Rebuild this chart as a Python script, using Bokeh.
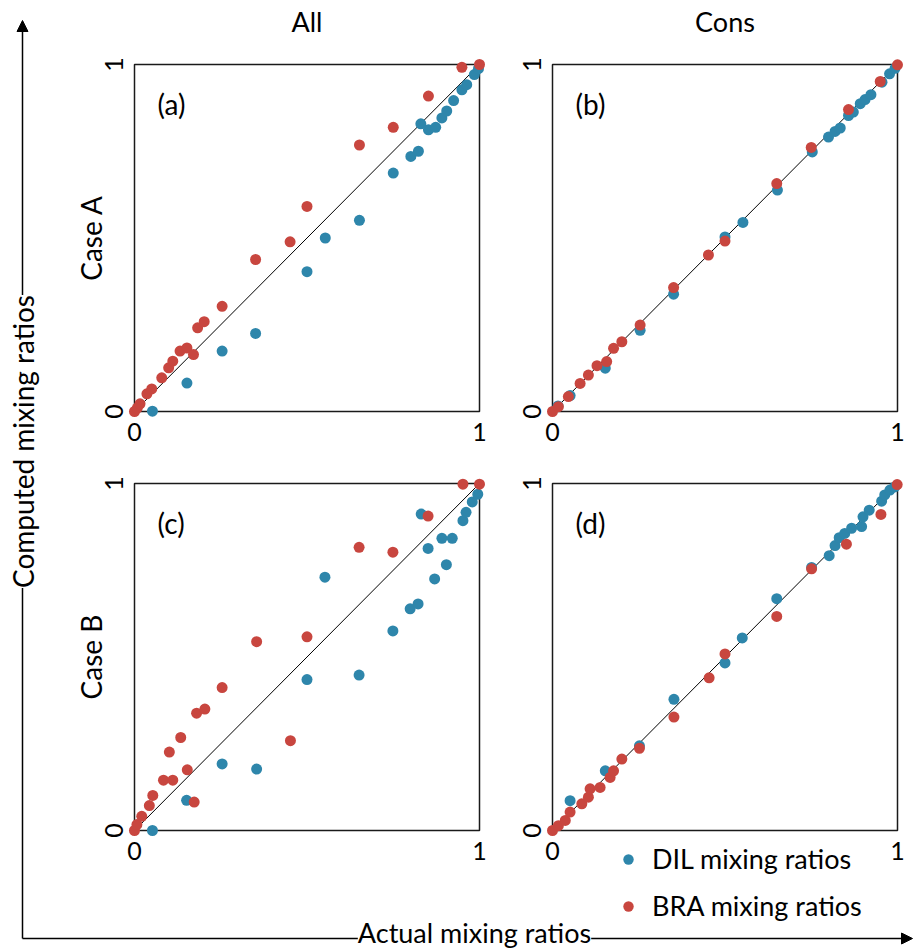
import math
from bokeh.plotting import figure
from bokeh.models import (Range1d, FixedTicker, Label, Legend, LegendItem, LinearAxis,
                          Arrow, NormalHead, BoxAnnotation)
from bokeh.embed import file_html
from bokeh.resources import INLINE

FONT = "Lato"
BLUE = "#2e86ab"
RED = "#c8463f"

# ---- data (actual ratio x, computed ratio y) ----
a_dil_x = [0.052, 0.152, 0.254, 0.351, 0.5, 0.553, 0.652, 0.75, 0.801, 0.823, 0.83, 0.852, 0.873, 0.891, 0.905, 0.925, 0.949, 0.963, 0.985, 0.997]
a_dil_y = [0.001, 0.082, 0.174, 0.225, 0.403, 0.5, 0.551, 0.687, 0.735, 0.75, 0.829, 0.812, 0.819, 0.846, 0.866, 0.896, 0.927, 0.942, 0.971, 0.988]
a_bra_x = [0.0, 0.008, 0.016, 0.036, 0.05, 0.079, 0.099, 0.111, 0.132, 0.152, 0.171, 0.183, 0.202, 0.254, 0.351, 0.451, 0.5, 0.652, 0.75, 0.852, 0.949, 1.0]
a_bra_y = [0.0, 0.01, 0.022, 0.051, 0.065, 0.097, 0.126, 0.145, 0.174, 0.183, 0.164, 0.241, 0.259, 0.303, 0.438, 0.489, 0.591, 0.768, 0.819, 0.909, 0.992, 1.0]

b_dil_x = [0.016, 0.051, 0.153, 0.254, 0.351, 0.5, 0.552, 0.652, 0.753, 0.8, 0.819, 0.834, 0.858, 0.872, 0.892, 0.906, 0.923, 0.955, 0.977, 0.993]
b_dil_y = [0.016, 0.046, 0.125, 0.234, 0.338, 0.503, 0.545, 0.638, 0.748, 0.791, 0.807, 0.817, 0.853, 0.863, 0.887, 0.899, 0.913, 0.949, 0.973, 0.989]
b_bra_x = [0.0, 0.017, 0.046, 0.08, 0.104, 0.129, 0.157, 0.177, 0.201, 0.254, 0.351, 0.452, 0.5, 0.65, 0.75, 0.858, 0.95, 1.0]
b_bra_y = [0.0, 0.014, 0.043, 0.081, 0.105, 0.132, 0.144, 0.182, 0.201, 0.249, 0.357, 0.451, 0.491, 0.657, 0.761, 0.87, 0.951, 0.999]

c_dil_x = [0.052, 0.151, 0.254, 0.354, 0.5, 0.552, 0.651, 0.749, 0.799, 0.822, 0.831, 0.851, 0.87, 0.891, 0.904, 0.921, 0.952, 0.961, 0.979, 0.995]
c_dil_y = [0.0, 0.087, 0.192, 0.177, 0.435, 0.73, 0.448, 0.575, 0.639, 0.653, 0.912, 0.813, 0.725, 0.842, 0.766, 0.842, 0.893, 0.917, 0.947, 0.969]
c_bra_x = [0.0, 0.007, 0.021, 0.043, 0.053, 0.084, 0.101, 0.111, 0.134, 0.153, 0.173, 0.18, 0.204, 0.254, 0.354, 0.452, 0.5, 0.651, 0.749, 0.851, 0.952, 1.0]
c_bra_y = [0.0, 0.017, 0.041, 0.072, 0.101, 0.145, 0.226, 0.145, 0.268, 0.175, 0.082, 0.338, 0.35, 0.412, 0.544, 0.259, 0.558, 0.816, 0.802, 0.906, 0.998, 0.998]

d_dil_x = [0.051, 0.153, 0.252, 0.352, 0.5, 0.55, 0.65, 0.751, 0.802, 0.819, 0.831, 0.847, 0.867, 0.896, 0.9, 0.918, 0.954, 0.963, 0.978, 0.992]
d_dil_y = [0.086, 0.172, 0.244, 0.378, 0.483, 0.555, 0.668, 0.758, 0.792, 0.821, 0.844, 0.856, 0.871, 0.876, 0.904, 0.923, 0.949, 0.967, 0.981, 0.99]
d_bra_x = [0.0, 0.017, 0.037, 0.051, 0.085, 0.104, 0.109, 0.138, 0.167, 0.177, 0.201, 0.252, 0.352, 0.454, 0.5, 0.65, 0.751, 0.852, 0.952, 0.999]
d_bra_y = [0.0, 0.014, 0.029, 0.053, 0.077, 0.096, 0.12, 0.124, 0.153, 0.172, 0.206, 0.237, 0.327, 0.44, 0.509, 0.617, 0.754, 0.825, 0.911, 0.997]

tick_values = [0, 1]
column_titles = ["All", "Cons"]
row_titles = ["Case A", "Case B"]
panel_tags = ["(a)", "(b)", "(c)", "(d)"]
legend_labels = ["DIL mixing ratios", "BRA mixing ratios"]

W, H = 913, 949
# page-pixel box of each panel's 0..1 square: left, right, top, bottom
boxes = {"a": (134, 479, 64, 411), "b": (552, 897, 64, 411),
         "c": (134, 479, 483, 830), "d": (552, 897, 483, 830)}

p = figure(frame_width=W, frame_height=H, x_range=Range1d(0, W), y_range=Range1d(0, H),
           min_border=0, output_backend="svg", toolbar_location=None,
           x_axis_location=None, y_axis_location=None)
p.grid.visible = False
p.outline_line_color = None
p.background_fill_color = "white"
p.border_fill_color = "white"

lo, hi = tick_values[0], tick_values[-1]
for key, (L, R, T, B) in boxes.items():
    sx, sy = R - L, B - T
    p.extra_x_ranges["x" + key] = Range1d(lo - L / sx, hi + (W - R) / sx)
    p.extra_y_ranges["y" + key] = Range1d(lo - (H - B) / sy, hi + T / sy)


def panel(key, tag, dx, dy, bx, by, title=None, ylabel=None):
    rn = dict(x_range_name="x" + key, y_range_name="y" + key)
    L, R, T, B = boxes[key]
    sx, sy = R - L, B - T
    xa = LinearAxis(fixed_location=0, **rn)
    ya = LinearAxis(fixed_location=0, **rn)
    for ax in (xa, ya):
        ax.ticker = FixedTicker(ticks=tick_values)
        ax.axis_line_color = None
        ax.major_tick_line_color = None
        ax.minor_tick_line_color = None
        ax.major_tick_out = 0
        ax.major_tick_in = 0
        ax.major_label_text_font = FONT
        ax.major_label_text_font_size = "25px"
        ax.major_label_text_color = "black"
    xa.major_label_standoff = 11
    ya.major_label_standoff = 12
    ya.major_label_orientation = "vertical"
    p.add_layout(xa, "below")
    p.add_layout(ya, "left")
    p.add_layout(BoxAnnotation(left=lo, right=hi, bottom=lo, top=hi, fill_color=None, fill_alpha=0,
                               line_color="#1a1a1a", line_alpha=1, line_width=1.5,
                               level="underlay", **rn))
    p.line(tick_values, tick_values, line_color="black", line_width=1, **rn)
    rd = p.scatter(dx, dy, size=11, fill_color=BLUE, line_color=None, **rn)
    rb = p.scatter(bx, by, size=11, fill_color=RED, line_color=None, **rn)
    p.add_layout(Label(x=0.067, y=0.885, text=tag, text_baseline="middle", text_align="left",
                       text_font=FONT, text_font_size="28px", text_color="black", **rn))
    if ylabel:
        p.add_layout(Label(x=-44 / sx, y=0.5, text=ylabel, angle=math.pi / 2,
                           text_align="center", text_baseline="middle",
                           text_font=FONT, text_font_size="28px", text_color="black", **rn))
    if title:
        p.add_layout(Label(x=0.5, y=1 + 43 / sy, text=title,
                           text_align="center", text_baseline="middle",
                           text_font=FONT, text_font_size="27px", text_color="black", **rn))
    return rd, rb


panel("a", panel_tags[0], a_dil_x, a_dil_y, a_bra_x, a_bra_y, title=column_titles[0], ylabel=row_titles[0])
panel("b", panel_tags[1], b_dil_x, b_dil_y, b_bra_x, b_bra_y, title=column_titles[1])
panel("c", panel_tags[2], c_dil_x, c_dil_y, c_bra_x, c_bra_y, ylabel=row_titles[1])
rd, rb = panel("d", panel_tags[3], d_dil_x, d_dil_y, d_bra_x, d_bra_y)

legend = Legend(items=[LegendItem(label=legend_labels[0], renderers=[rd]),
                       LegendItem(label=legend_labels[1], renderers=[rb])],
                location=(615, 27), orientation="vertical", padding=0, margin=0,
                spacing=14, glyph_width=26, glyph_height=26, label_height=26,
                label_standoff=11, border_line_color=None, background_fill_alpha=0,
                label_text_font=FONT, label_text_font_size="27px", label_text_color="black")
p.add_layout(legend)

# outer axis arrows (page-pixel coordinates, y measured up from the bottom)
head = dict(size=11, fill_color="black", line_color="black")
p.add_layout(Arrow(end=NormalHead(**head), x_start=22, y_start=11, x_end=22, y_end=929,
                   line_width=1.5, line_color="black"))
p.add_layout(Arrow(end=NormalHead(**head), x_start=22, y_start=11, x_end=912, y_end=11,
                   line_width=1.5, line_color="black"))
p.add_layout(Label(x=22, y=508, text="Computed mixing ratios", angle=math.pi / 2,
                   text_align="center", text_baseline="middle", background_fill_color="white",
                   text_font=FONT, text_font_size="28px", text_color="black"))
p.add_layout(Label(x=474, y=17, text="Actual mixing ratios",
                   text_align="center", text_baseline="middle", background_fill_color="white",
                   text_font=FONT, text_font_size="27px", text_color="black"))

open("out.html", "w").write(file_html(p, INLINE))
